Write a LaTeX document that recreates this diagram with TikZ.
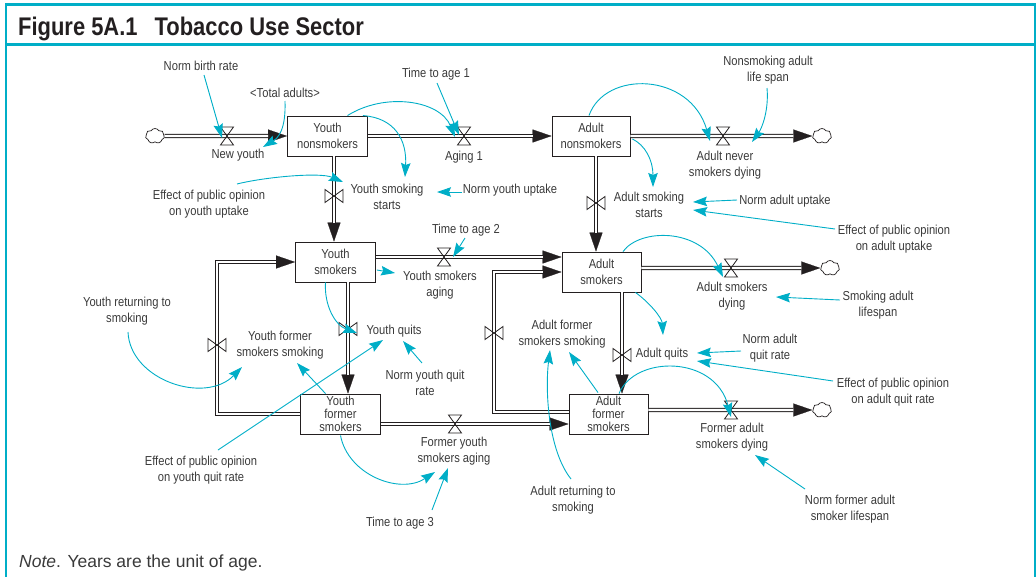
\documentclass[tikz,border=0pt]{standalone}
\usepackage{fontspec}
\setmainfont{Liberation Sans}[FakeStretch=0.86]
\newfontfamily\notefont{Liberation Sans}
\usepackage{tikz}
\usetikzlibrary{shapes, arrows.meta, calc}
\definecolor{tealc}{RGB}{0,174,199}
\definecolor{txtgray}{RGB}{58,58,58}
\definecolor{pipegray}{RGB}{35,31,32}

\begin{document}
\begin{tikzpicture}[x=1pt, y=-1pt, >={Stealth[length=14pt,width=9.5pt,inset=2pt]}, font=\fontsize{13}{15.5}\selectfont]
	\tikzstyle{stock} = [draw=pipegray, line width=0.9pt, rectangle, minimum width=80pt, minimum height=40pt, inner sep=0pt, align=center, text=txtgray]
	\tikzstyle{aux} = [align=center, inner sep=1pt, text=txtgray]
	\tikzstyle{sink} = [draw=pipegray, line width=0.7pt, cloud, cloud puffs=7, cloud puff arc=120, aspect=1.3, minimum width=19pt, minimum height=15pt, inner sep=0pt]
	\tikzstyle{pipe} = [draw=pipegray, line width=0.9pt, double=white, double distance=2.4pt, shorten >=19pt]
	\tikzstyle{pipetip} = [draw=pipegray, line width=0.2pt, -{Triangle[length=19pt,width=13pt]}]
	\tikzstyle{link} = [->, draw=tealc, line width=0.9pt]
	\tikzstyle{valve} = [draw=pipegray, line width=0.8pt]
	\tikzset{
		hvalve/.pic={\draw[valve] (-6.5,-9) -- (6.5,-9) -- (-6.5,9) -- (6.5,9) -- cycle;},
		vvalve/.pic={\draw[valve] (-9,-6.5) -- (-9,6.5) -- (9,-6.5) -- (9,6.5) -- cycle;}
	}

	\useasboundingbox (0,0) rectangle (1036,576);
	\draw[tealc, line width=2.2pt] (6,4.5) rectangle (1035,590);
	\draw[tealc, line width=2.4pt] (6,44.5) -- (1035,44.5);
	\node[anchor=base west, inner sep=0pt, text=pipegray, font=\fontsize{25.5}{30}\selectfont\bfseries] (title) at (18,35) {Figure 5A.1\hspace{17pt}Tobacco Use Sector};
	\node[anchor=base west, inner sep=0pt, text=txtgray, font=\notefont\fontsize{17.5}{21}\selectfont] (note) at (19,567) {\textit{Note}. Years are the unit of age.};

	\begin{scope}
		\path
			node[stock] (1) at (327.5,136) {Youth\\nonsmokers}
			node[stock, minimum width=78pt] (2) at (591,136) {Adult\\nonsmokers}
			node[stock] (3) at (335.5,262) {Youth\\smokers}
			node[stock, minimum width=79pt] (4) at (601.5,272) {Adult\\smokers}
			node[stock, font=\fontsize{13}{13}\selectfont] (5) at (340.5,414) {Youth\\former\\smokers}
			node[stock, minimum width=79pt, font=\fontsize{13}{13}\selectfont] (6) at (608.5,414) {Adult\\former\\smokers}
			node[sink] (c1) at (155,136) {}
			node[sink] (c2) at (822,136) {}
			node[sink] (c3) at (830,268) {}
			node[sink] (c4) at (822,410) {}
		;
		\coordinate (v1) at (227,136);
		\coordinate (v2) at (464,136);
		\coordinate (v3) at (723,136);
		\coordinate (v4) at (334,196);
		\coordinate (v5) at (596,203);
		\coordinate (v6) at (444,257);
		\coordinate (v7) at (731,268);
		\coordinate (v8) at (348,329);
		\coordinate (v9) at (622,355);
		\coordinate (v10) at (455,424);
		\coordinate (v11) at (731,410);
		\coordinate (v12) at (217,345);
		\coordinate (v13) at (494,333);
	\end{scope}

	\begin{scope}
		\draw[pipetip] (c1.east) -- (1.west |- v1);
		\draw[pipe] (c1.east) -- (1.west |- v1);
		\draw[pipetip] (1.east |- v2) -- (2.west |- v2);
		\draw[pipe] (1.east |- v2) -- (2.west |- v2);
		\draw[pipetip] (2.east |- v3) -- (c2.west);
		\draw[pipe] (2.east |- v3) -- (c2.west);
		\draw[pipetip] (1.south -| v4) -- (3.north -| v4);
		\draw[pipe] (1.south -| v4) -- (3.north -| v4);
		\draw[pipetip] (2.south -| v5) -- (4.north -| v5);
		\draw[pipe] (2.south -| v5) -- (4.north -| v5);
		\draw[pipetip] (3.east |- v6) -- (4.west |- v6);
		\draw[pipe] (3.east |- v6) -- (4.west |- v6);
		\draw[pipetip] (4.east |- v7) -- (c3.west);
		\draw[pipe] (4.east |- v7) -- (c3.west);
		\draw[pipetip] (3.south -| v8) -- (5.north -| v8);
		\draw[pipe] (3.south -| v8) -- (5.north -| v8);
		\draw[pipetip] (4.south -| v9) -- (6.north -| v9);
		\draw[pipe] (4.south -| v9) -- (6.north -| v9);
		\draw[pipetip] (5.east |- v10) -- (6.west |- v10);
		\draw[pipe] (5.east |- v10) -- (6.west |- v10);
		\draw[pipetip] (6.east |- v11) -- (c4.west);
		\draw[pipe] (6.east |- v11) -- (c4.west);
		\draw[pipetip] (5.west) -| (v12) |- (3.west);
		\draw[pipe] (5.west) -| (v12) |- (3.west);
		\draw[pipetip] ([yshift=2pt]6.west) -| (v13) |- (4.west);
		\draw[pipe] ([yshift=2pt]6.west) -| (v13) |- (4.west);

		\pic at (v1) {hvalve};
		\pic at (v2) {hvalve};
		\pic at (v3) {hvalve};
		\pic at (v4) {vvalve};
		\pic at (v5) {vvalve};
		\pic at (v6) {hvalve};
		\pic at (v7) {hvalve};
		\pic at (v8) {vvalve};
		\pic at (v9) {vvalve};
		\pic at (v10) {hvalve};
		\pic at (v11) {hvalve};
		\pic at (v12) {vvalve};
		\pic at (v13) {vvalve};
	\end{scope}

	\begin{scope}
		\path
			node[aux] (lny) at (238,155) {New youth}
			node[aux] (la1) at (464,157) {Aging 1}
			node[aux] (land) at (725,165) {Adult never\\smokers dying}
			node[aux] (lyss) at (387,197) {Youth smoking\\starts}
			node[aux] (lass) at (649,205) {Adult smoking\\starts}
			node[aux] (lysa) at (440,285) {Youth smokers\\aging}
			node[aux] (lasd) at (732,296) {Adult smokers\\dying}
			node[aux] (lyq) at (394,331) {Youth quits}
			node[aux] (laq) at (662,354) {Adult quits}
			node[aux] (lfya) at (454,451) {Former youth\\smokers aging}
			node[aux] (lfad) at (732,437) {Former adult\\smokers dying}
			node[aux] (lyfs) at (280,345) {Youth former\\smokers smoking}
			node[aux] (lafs) at (562,334) {Adult former\\smokers smoking}
			node[aux] (nbr) at (201,66) {Norm birth rate}
			node[aux] (tad) at (285,93) {<Total adults>}
			node[aux] (ta1) at (436,74) {Time to age 1}
			node[aux] (epy) at (209,204) {Effect of public opinion\\on youth uptake}
			node[aux] (nyu) at (510,190) {Norm youth uptake}
			node[aux] (nal) at (768,70) {Nonsmoking adult\\life span}
			node[aux] (nau) at (785,201) {Norm adult uptake}
			node[aux] (epa) at (894,239) {Effect of public opinion\\on adult uptake}
			node[aux] (ta2) at (466,230) {Time to age 2}
			node[aux] (nyq) at (425,383) {Norm youth quit\\rate}
			node[aux] (epq) at (201,470) {Effect of public opinion\\on youth quit rate}
			node[aux] (yrs) at (127,311) {Youth returning to\\smoking}
			node[aux] (ta3) at (400,523) {Time to age 3}
			node[aux] (sal) at (878,305) {Smoking adult\\lifespan}
			node[aux] (naq) at (770,348) {Norm adult\\quit rate}
			node[aux] (eaq) at (893,392) {Effect of public opinion\\on adult quit rate}
			node[aux] (ars) at (573,500) {Adult returning to\\smoking}
			node[aux] (nfl) at (850,509) {Norm former adult\\smoker lifespan}
		;
	\end{scope}

	\begin{scope}
		\draw[link] ($(nbr)+(3,9)$) -- ($(v1)+(-5,2)$);
		\draw[link] ($(tad)+(0,8)$) .. controls (286,130) and (278,138) .. ($(lny)+(25,-8)$);
		\draw[link] ($(1.north)+(20,0)$) .. controls (385,92) and (440,100) .. ($(v2)+(-9,1)$);
		\draw[link] ($(1.north east)+(-5,0)$) .. controls (395,118) and (407,140) .. ($(lyss)+(18,-20)$);
		\draw[link] ($(ta1)+(1,9)$) -- ($(v2)+(-5,-1)$);
		\draw[link] ($(epy)+(28,-20)$) .. controls (265,177) and (320,172) .. ($(lyss)+(-44,-15)$);
		\draw[link] ($(nyu)+(-48,2)$) -- ($(lyss)+(50,-5)$);
		\draw[link] ($(2.north)+(-2,0)$) .. controls (605,70) and (690,72) .. ($(v3)+(-13,5)$);
		\draw[link] ($(nal)+(-1,18)$) .. controls (769,110) and (762,128) .. ($(v3)+(29,6)$);
		\draw[link] ($(2.east)+(2,3)$) .. controls (645,145) and (653,160) .. ($(lass)+(4,-18)$);
		\draw[link] ($(nau)+(-48,-1)$) -- ($(lass)+(44,-3)$);
		\draw[link] ($(epa)+(-59,-10)$) -- ($(lass)+(44,5)$);
		\draw[link] ($(ta2)+(-1,8)$) -- ($(v6)+(9,0)$);
		\draw[link] ($(3.east)+(1,8)$) -- ($(lysa)+(-45,-12)$);
		\draw[link] ($(3.south)+(-10,0)$) .. controls (324,305) and (335,325) .. ($(lyq)+(-37,2)$);
		\draw[link] ($(nyq)+(-3,-20)$) -- ($(lyq)+(9,10)$);
		\draw[link] ($(epq)+(17,-20)$) -- ($(lyq)+(-11,9)$);
		\draw[link] ($(yrs)+(1,21)$) .. controls (130,380) and (205,405) .. ($(lyfs)+(-38,22)$);
		\draw[link] ($(5.north)+(-15,0)$) -- ($(lyfs)+(17,18)$);
		\draw[link] ($(5.south)+(0,1)$) .. controls (348,475) and (400,495) .. ($(lfya)+(-19,21)$);
		\draw[link] ($(ta3)+(32,-13)$) -- ($(lfya)+(-6,17)$);
		\draw[link] ($(4.north)+(21.5,0)$) .. controls (640,228) and (700,228) .. ($(v7)+(-8,9)$);
		\draw[link] ($(4.south east)+(-6,0)$) .. controls (650,303) and (662,318) .. ($(laq)+(1,-19)$);
		\draw[link] ($(sal)+(-38,-5)$) -- ($(lasd)+(44,1)$);
		\draw[link] ($(naq)+(-29,3)$) -- ($(laq)+(35,-1)$);
		\draw[link] ($(eaq)+(-60,-11)$) -- ($(laq)+(35,7)$);
		\draw[link] ($(6.north)+(10.5,0)$) .. controls (635,355) and (715,355) .. ($(v11)+(0,7)$);
		\draw[link] ($(ars)+(-2,-21)$) .. controls (548,450) and (545,390) .. ($(lafs)+(-12,16)$);
		\draw[link] ($(6.north)+(-10.5,-1)$) -- ($(lafs)+(7,18)$);
		\draw[link] ($(nfl)+(-45,-20)$) -- ($(lfad)+(23,18)$);
	\end{scope}
\end{tikzpicture}
\end{document}
